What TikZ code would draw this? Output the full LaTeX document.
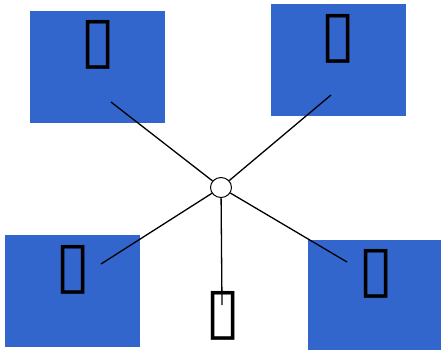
\documentclass[tikz,border=0pt]{standalone}
\usepackage{fontspec}
\newfontfamily\symfont{DejaVu Sans}
\usetikzlibrary{positioning,shapes.geometric}
\definecolor{boxblue}{RGB}{51,102,204}

\begin{document}
\begin{tikzpicture}[x=1pt,y=-1pt,
    block/.style={fill=boxblue,minimum width=135pt,minimum height=112pt,inner sep=0pt},
    glyph/.style={font=\symfont\fontsize{64}{64}\selectfont,inner sep=0pt},
    spoke/.style={line width=1.3pt}]
  \useasboundingbox (0,0) rectangle (442,351);
  \node [block] (tl) at (97.5,67) {};
  \node [block] (tr) at (338.5,60) {};
  \node [block] (bl) at (72.5,291) {};
  \node [block,minimum width=133pt,minimum height=110pt] (br) at (374.5,295) {};
  \node [draw,ellipse,minimum width=21pt,minimum height=20pt,inner sep=0pt,line width=1pt] (hub) at (221,187.5) {};
  \coordinate (tl end) at (111,102);
  \coordinate (tr end) at (331,95);
  \coordinate (bl end) at (101,264);
  \coordinate (br end) at (347,262);
  \coordinate (b end) at (222,305);
  \foreach \e in {tl end,tr end,bl end,br end,b end}
    \draw [spoke] (hub) -- (\e);
  \node [glyph] (tl text) at (98,45) {▯};
  \node [glyph] (tr text) at (338,39) {▯};
  \node [glyph] (bl text) at (73,270) {▯};
  \node [glyph] (br text) at (376,274) {▯};
  \node [glyph] (b text) at (223,316) {▯};
\end{tikzpicture}
\end{document}
